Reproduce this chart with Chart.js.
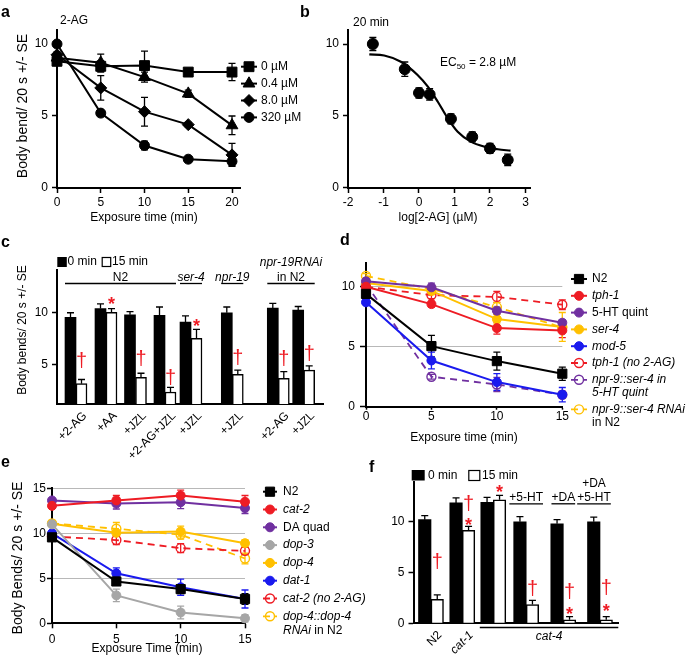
<!DOCTYPE html>
<html><head><meta charset="utf-8">
<script src="https://cdn.jsdelivr.net/npm/chart.js@4.4.1/dist/chart.umd.min.js"></script>
<style>
html,body{margin:0;padding:0;background:#fff}
#wrap{position:relative;width:688px;height:663px;overflow:hidden;background:#fff}
#wrap canvas{position:absolute;left:0;top:0}
</style></head><body>
<div id="wrap">
<canvas id="pa" width="688" height="663"></canvas>
<canvas id="pb" width="688" height="663"></canvas>
<canvas id="pc" width="688" height="663"></canvas>
<canvas id="pd" width="688" height="663"></canvas>
<canvas id="pe" width="688" height="663"></canvas>
<canvas id="pf" width="688" height="663"></canvas>
</div>
<script>
// ================= DATA =================
// Panel a : body bends vs exposure time for 2-AG doses
const aTimes = [0, 5, 10, 15, 20];
const aSeries = ['0 µM', '0.4 µM', '8.0 µM', '320 µM'];
const a0 = [8.8, 8.45, 8.5, 8.05, 8.05];
const a0Err = [0.3, 0.4, 1.0, 0.15, 0.6];
const a04 = [9.05, 8.7, 7.7, 6.55, 4.35];
const a04Err = [0.3, 0.6, 0.35, 0.25, 0.65];
const a8 = [9.25, 6.95, 5.3, 4.4, 2.3];
const a8Err = [0.2, 0.85, 1.0, 0.15, 0.8];
const a320 = [10.0, 5.2, 2.95, 2.0, 1.85];
const a320Err = [0.15, 0.1, 0.3, 0.1, 0.3];
const aXTicks = [0, 5, 10, 15, 20];
const aYTicks = [0, 5, 10];

// Panel b : dose response at 20 min
const bLogConc = [-1.3, -0.4, 0, 0.3, 0.9, 1.5, 2.0, 2.5];
const bBends = [10.0, 8.25, 6.6, 6.5, 4.8, 3.55, 2.75, 1.95];
const bErr = [0.45, 0.5, 0.35, 0.4, 0.35, 0.35, 0.35, 0.4];
const bFitX = [-1.4, -0.98, -0.51, -0.04, 0.25, 0.53, 0.81, 1.09, 1.46, 1.84, 2.22, 2.58];
const bFitY = [9.28, 9.2, 8.77, 7.85, 7.04, 5.99, 4.84, 3.91, 3.22, 2.87, 2.69, 2.59];
const bXTicks = [-2, -1, 0, 1, 2, 3];
const bYTicks = [0, 5, 10];

// Panel c : bars 0 min / 15 min
const cTreat = ['+2-AG', '+AA', '+JZL', '+2-AG+JZL', '+JZL', '+JZL', '+2-AG', '+JZL'];
const cGroups = ['N2', '_ser-4_', '_npr-19_', '_npr-19RNAi_\nin N2'];
const c0 = [9.5, 10.35, 9.75, 9.7, 9.05, 9.95, 10.4, 10.2];
const c0Err = [0.45, 0.45, 0.3, 0.8, 0.6, 0.55, 0.45, 0.35];
const c15 = [3.15, 10.0, 3.75, 2.35, 7.5, 4.05, 3.65, 4.45];
const c15Err = [0.4, 0.35, 0.4, 0.45, 0.85, 0.4, 0.65, 0.4];
const cYTicks = [5, 10];
const cMarks = [[0, '†', 5.45], [1, '*', 11.1], [2, '†', 5.6], [3, '†', 3.8], [4, '*', 9.0], [5, '†', 5.75], [6, '†', 5.6], [7, '†', 6.05]];

// Panel d : serotonin mutants
const dTimes = [0, 5, 10, 15];
const dNames = ['N2', '_tph-1_', '5-HT quint', '_ser-4_', '_mod-5_', '_tph-1 (no 2-AG)_', '_npr-9::ser-4 in_\n_5-HT quint_', '_npr-9::ser-4 RNAi_\nin N2'];
const dN2 = [9.4, 5.05, 3.8, 2.75];          const dN2Err = [0.3, 0.9, 0.75, 0.55];
const dTph1 = [10.0, 8.55, 6.55, 6.35];      const dTph1Err = [0.2, 0.25, 0.5, 0.6];
const dQuint = [10.45, 9.95, 8.0, 7.0];      const dQuintErr = [0.25, 0.35, 0.3, 0.25];
const dSer4 = [10.3, 9.65, 7.3, 6.65];       const dSer4Err = [0.25, 0.3, 0.4, 1.2];
const dMod5 = [8.7, 3.85, 2.05, 1.0];        const dMod5Err = [0.2, 0.7, 0.7, 0.6];
const dTph1No = [10.0, 9.3, 9.15, 8.5];      const dTph1NoErr = [0.2, 0.3, 0.45, 0.4];
const dNpr9Quint = [10.2, 2.5, 1.85, 1.0];   const dNpr9QuintErr = [0.2, 0.2, 0.6, 0.3];
const dNpr9Rnai = [10.9, 9.8, 8.3, 6.6];     const dNpr9RnaiErr = [0.2, 0.3, 0.4, 0.4];
const dXTicks = [0, 5, 10, 15];
const dYTicks = [0, 5, 10];

// Panel e : dopamine mutants
const eTimes = [0, 5, 10, 15];
const eNames = ['N2', '_cat-2_', 'DA quad', '_dop-3_', '_dop-4_', '_dat-1_', '_cat-2 (no 2-AG)_', '_dop-4::dop-4_\n_RNAi_ in N2'];
const eN2 = [9.55, 4.65, 3.8, 2.7];          const eN2Err = [0.2, 0.3, 0.5, 0.6];
const eCat2 = [13.05, 13.65, 14.2, 13.5];    const eCat2Err = [0.2, 0.55, 0.6, 0.7];
const eDaQuad = [13.65, 13.3, 13.45, 12.8];  const eDaQuadErr = [0.2, 0.6, 0.7, 0.6];
const eDop3 = [11.0, 3.1, 1.2, 0.55];        const eDop3Err = [0.2, 0.7, 0.7, 0.4];
const eDop4 = [11.05, 10.05, 10.2, 8.9];     const eDop4Err = [0.2, 0.3, 0.6, 0.4];
const eDat1 = [10.0, 5.55, 4.0, 2.7];        const eDat1Err = [0.2, 0.6, 0.9, 1.0];
const eCat2No = [9.65, 9.25, 8.35, 8.05];    const eCat2NoErr = [0.2, 0.5, 0.5, 0.4];
const eDop4Rnai = [11.1, 10.5, 9.85, 7.2];   const eDop4RnaiErr = [0.2, 0.7, 0.5, 0.6];
const eXTicks = [0, 5, 10, 15];
const eYTicks = [0, 5, 10, 15];

// Panel f : cat-1 / cat-4 rescue bars
const fCats = ['N2', '_cat-1_'];
const fSub = ['+5-HT', '+DA', '+DA\n+5-HT'];
const f0 = [10.2, 11.85, 11.9, 10.0, 9.8, 10.0];
const f0Err = [0.4, 0.5, 0.5, 0.5, 0.4, 0.45];
const f15 = [2.35, 9.15, 12.15, 1.85, 0.35, 0.35];
const f15Err = [0.45, 0.4, 0.45, 0.4, 0.3, 0.3];
const fYTicks = [0, 5, 10];
const fMarks = [[0, '†', 6.15], [1, '†', 11.8], [1, '*', 10.0], [2, '*', 13.3], [3, '†', 3.45], [4, '†', 3.2], [4, '*', 1.3], [5, '†', 3.6], [5, '*', 1.57]];

// ================= LAYOUT / STYLE =================
const W = 688, H = 663;
const FONT = "'Liberation Sans', Arial, Helvetica, sans-serif";
const RED = '#ee1c24', PURPLE = '#7030a0', GOLD = '#ffc000', BLUE = '#1a1aee', GREY = '#a6a6a6', BLACK = '#000000';
const cSlot = [19, 49, 78.5, 108, 134, 175.3, 221.3, 246.7];  // hidden x-axis positions of bar pairs
const cGroupSpan = [[0, 3], [4, 4], [5, 5], [6, 7]];
const fSlot = [17.5, 48.8, 79.8, 112.7, 149.8, 186.5];
const fSubShift = [0, 0, -6];

Chart.defaults.font.family = FONT;
Chart.defaults.font.size = 12;
Chart.defaults.color = '#000';

// ---------- drawing helpers ----------
function fontStr(size, italic, bold) { return (italic ? 'italic ' : '') + (bold ? 'bold ' : '') + size + 'px ' + FONT; }
function drawText(ctx, s, x, y, o = {}) {
  ctx.save();
  ctx.translate(x, y);
  if (o.rot) ctx.rotate(o.rot * Math.PI / 180);
  ctx.font = fontStr(o.size || 12, o.italic, o.bold);
  ctx.fillStyle = o.color || '#000';
  ctx.textAlign = o.align || 'center';
  ctx.textBaseline = o.baseline || 'middle';
  ctx.fillText(s, 0, 0);
  ctx.restore();
}
// "_" toggles italic
function drawRich(ctx, s, x, y, o = {}) {
  const size = o.size || 12;
  const parts = s.split('_');
  const segs = [];
  let total = 0;
  ctx.save();
  parts.forEach((p, i) => {
    const it = i % 2 === 1;
    ctx.font = fontStr(size, it, false);
    const w = ctx.measureText(p).width;
    segs.push({ p, it, w }); total += w;
  });
  ctx.restore();
  let cx = o.align === 'center' ? x - total / 2 : (o.align === 'right' ? x - total : x);
  segs.forEach(sg => {
    if (sg.p) drawText(ctx, sg.p, cx, y, { size, italic: sg.it, align: 'left', baseline: o.baseline || 'middle', rot: 0 });
    cx += sg.w;
  });
  return total;
}
function richRotated(ctx, s, x, y, rot) {
  ctx.save(); ctx.translate(x, y); ctx.rotate(rot * Math.PI / 180);
  drawRich(ctx, s, 0, 0, { align: 'right' });
  ctx.restore();
}
function drawMark(ctx, sym, x, yc) {
  ctx.save();
  const isStar = sym === '*';
  ctx.font = fontStr(isStar ? 18 : 20, false, isStar);
  ctx.textAlign = 'center'; ctx.textBaseline = 'alphabetic'; ctx.fillStyle = RED;
  const m = ctx.measureText(sym);
  ctx.fillText(sym, x, yc + (m.actualBoundingBoxAscent - m.actualBoundingBoxDescent) / 2);
  ctx.restore();
}
function marker(ctx, style, x, y, r, fill, stroke, lw) {
  ctx.save();
  ctx.beginPath();
  if (style === 'circle') ctx.arc(x, y, r, 0, Math.PI * 2);
  else if (style === 'rect') { const s = r * Math.SQRT1_2; ctx.rect(x - s, y - s, 2 * s, 2 * s); }
  else if (style === 'triangle') {
    for (let k = 0; k < 3; k++) { const a = (-90 + 120 * k) * Math.PI / 180; const px = x + Math.cos(a) * r, py = y + Math.sin(a) * r; k ? ctx.lineTo(px, py) : ctx.moveTo(px, py); }
  } else if (style === 'rectRot') { ctx.moveTo(x - r, y); ctx.lineTo(x, y - r); ctx.lineTo(x + r, y); ctx.lineTo(x, y + r); }
  ctx.closePath();
  if (fill) { ctx.fillStyle = fill; ctx.fill(); }
  ctx.setLineDash([]);
  ctx.lineWidth = lw || 1; ctx.strokeStyle = stroke; ctx.stroke();
  ctx.restore();
}
function drawLegend(ctx, datasets, mx, tx, y0, step, gap, half) {
  let y = y0;
  datasets.forEach(ds => {
    ctx.save();
    ctx.strokeStyle = ds.borderColor; ctx.lineWidth = ds.borderWidth || 2; ctx.setLineDash(ds.borderDash || []);
    ctx.beginPath(); ctx.moveTo(mx - half, y); ctx.lineTo(mx + half, y); ctx.stroke();
    ctx.restore();
    marker(ctx, ds.pointStyle, mx, y, ds.pointRadius, ds.open ? null : ds.borderColor, ds.borderColor, ds.open ? 1.4 : 1);
    const lines = ds.label.split('\n');
    lines.forEach((ln, k) => drawRich(ctx, ln, tx, y + k * gap, { align: 'left' }));
    y += step + gap * (lines.length - 1);
  });
}

// error bars: lines -> both directions before datasets; bars -> upward after datasets
function drawErrors(chart, after) {
  const bar = chart.config.type === 'bar';
  if (bar !== after) return;
  const ctx = chart.ctx, ys = chart.scales.y;
  chart.data.datasets.forEach((ds, di) => {
    if (!ds.errors) return;
    const meta = chart.getDatasetMeta(di);
    ctx.save();
    ctx.strokeStyle = ds.errColor || ds.borderColor; ctx.lineWidth = 1.3; ctx.setLineDash([]);
    meta.data.forEach((el, i) => {
      const e = ds.errors[i]; if (e == null) return;
      const v = ds.data[i].y;
      const x = el.x, top = ys.getPixelForValue(v + e), bot = bar ? el.y : ys.getPixelForValue(v - e);
      const cw = 3.5;
      ctx.beginPath();
      ctx.moveTo(x, top); ctx.lineTo(x, bot);
      ctx.moveTo(x - cw, top); ctx.lineTo(x + cw, top);
      if (!bar) { ctx.moveTo(x - cw, bot); ctx.lineTo(x + cw, bot); }
      ctx.stroke();
    });
    ctx.restore();
  });
}
const errPlugin = { id: 'errbars', beforeDatasetsDraw: c => drawErrors(c, false), afterDatasetsDraw: c => drawErrors(c, true) };

function linAxis(min, max, ticks, o = {}) {
  return {
    type: 'linear', min, max, offset: false,
    afterBuildTicks: s => { s.ticks = ticks.map(v => ({ value: v })); },
    ticks: { display: ticks.length > 0, autoSkip: false, maxRotation: 0, minRotation: 0, padding: o.pad ?? 3, color: '#000', font: { size: 12 } },
    grid: { display: o.tickMarks !== false, drawOnChartArea: !!o.gridColor, color: o.gridColor || '#000', lineWidth: 1, drawTicks: o.tickMarks !== false, tickLength: o.tl ?? 5, tickColor: '#000', tickWidth: 1.5, offset: false },
    border: { display: true, color: '#000', width: 2 }
  };
}
function makeChart(id, type, area, yW, xH, datasets, xAxis, yAxis, deco) {
  xAxis.afterFit = s => { s.height = xH; };
  yAxis.afterFit = s => { s.width = yW; };
  return new Chart(document.getElementById(id), {
    type, data: { datasets },
    options: {
      responsive: false, animation: false, devicePixelRatio: 1, events: [],
      layout: { autoPadding: false, padding: { left: area.l - yW, right: W - area.r, top: area.t, bottom: H - area.b - xH } },
      scales: { x: xAxis, y: yAxis },
      plugins: { legend: { display: false }, tooltip: { enabled: false } }
    },
    plugins: [errPlugin, { id: 'deco', afterDraw: c => deco(c) }]
  });
}
const pts = (xs, ys) => ys.map((v, i) => ({ x: xs[i], y: v }));
function lineDs(label, xs, ys, errs, color, ps, r, opt = {}) {
  return {
    label, data: pts(xs, ys), errors: errs, borderColor: color, backgroundColor: color,
    borderWidth: opt.dash ? 1.8 : 2, borderDash: opt.dash ? [7, 5] : [], open: !!opt.open,
    pointStyle: ps, pointRadius: r, pointBorderWidth: opt.open ? 1.4 : 1, pointBorderColor: color,
    pointBackgroundColor: opt.open ? 'rgba(0,0,0,0)' : color, tension: 0, fill: false, clip: false
  };
}

// ================= PANEL a =================
makeChart('pa', 'line', { l: 57, r: 240.75, t: 29.6, b: 188 }, 45, 30, [
  lineDs(aSeries[0], aTimes, a0, a0Err, BLACK, 'rect', 7),
  lineDs(aSeries[1], aTimes, a04, a04Err, BLACK, 'triangle', 6.8),
  lineDs(aSeries[2], aTimes, a8, a8Err, BLACK, 'rectRot', 6),
  lineDs(aSeries[3], aTimes, a320, a320Err, BLACK, 'circle', 5)
], linAxis(0, 21, aXTicks, { tl: 5, pad: 2 }), linAxis(0, 11, aYTicks, { tl: 5, pad: 4 }), c => {
  const ctx = c.ctx;
  drawText(ctx, 'a', 1, 17, { size: 16, bold: true, align: 'left', baseline: 'alphabetic' });
  drawText(ctx, '2-AG', 74, 21);
  drawText(ctx, 'Exposure time (min)', 144, 218);
  drawText(ctx, 'Body bend/ 20 s +/- SE', 23, 106, { size: 14, rot: -90 });
  drawLegend(ctx, c.data.datasets, 249, 261, 66.7, 16.9, 13, 8);
});

// ================= PANEL b =================
makeChart('pb', 'line', { l: 348, r: 530.8, t: 29.6, b: 188 }, 45, 30, [
  { label: 'fit', data: pts(bFitX, bFitY), borderColor: BLACK, borderWidth: 2.2, pointRadius: 0, cubicInterpolationMode: 'monotone', fill: false, clip: false },
  { label: '20 min', data: pts(bLogConc, bBends), errors: bErr, showLine: false, borderColor: BLACK, backgroundColor: BLACK, pointStyle: 'circle', pointRadius: 5.5, pointBackgroundColor: BLACK, clip: false }
], linAxis(-2, 3.15, bXTicks, { tl: 5, pad: 2 }), linAxis(0, 11, bYTicks, { tl: 5, pad: 4 }), c => {
  const ctx = c.ctx;
  drawText(ctx, 'b', 300, 17, { size: 16, bold: true, align: 'left', baseline: 'alphabetic' });
  drawText(ctx, '20 min', 353, 23, { align: 'left' });
  drawText(ctx, 'log[2-AG] (µM)', 438, 218);
  ctx.save(); ctx.font = fontStr(12); const wEC = ctx.measureText('EC').width; ctx.font = fontStr(8); const w50 = ctx.measureText('50').width; ctx.restore();
  drawText(ctx, 'EC', 440, 63, { align: 'left' });
  drawText(ctx, '50', 440 + wEC, 67, { align: 'left', size: 8 });
  drawText(ctx, ' = 2.8 µM', 440 + wEC + w50, 63, { align: 'left' });
});

// ================= PANEL c =================
const cBarW = 11;
makeChart('pc', 'bar', { l: 57, r: 323.3, t: 270, b: 404 }, 45, 20, [
  { label: '0 min', data: c0.map((v, i) => ({ x: cSlot[i] - cBarW / 2, y: v })), errors: c0Err, errColor: BLACK, backgroundColor: BLACK, borderColor: BLACK, borderWidth: 0, barThickness: cBarW, grouped: false, base: 1.2 },
  { label: '15 min', data: c15.map((v, i) => ({ x: cSlot[i] + cBarW / 2, y: v })), errors: c15Err, errColor: BLACK, backgroundColor: '#fff', borderColor: BLACK, borderWidth: 1.5, barThickness: cBarW, grouped: false, base: 1.2 }
], linAxis(0, 266.3, [], { tickMarks: false }), linAxis(1.2, 14.05, cYTicks, { tl: 5, pad: 4 }), c => {
  const ctx = c.ctx, xs = c.scales.x, ys = c.scales.y;
  drawText(ctx, 'c', 1, 246.7, { size: 16, bold: true, align: 'left', baseline: 'alphabetic' });
  drawText(ctx, 'Body bends/ 20 s +/- SE', 23, 330, { rot: -90 });
  // legend
  ctx.save(); ctx.fillStyle = BLACK; ctx.fillRect(57.3, 257, 9.5, 10); ctx.restore();
  drawText(ctx, '0 min', 67.5, 262, { align: 'left' });
  ctx.save(); ctx.strokeStyle = BLACK; ctx.lineWidth = 1.2; ctx.strokeRect(102.2, 257.5, 8.5, 9); ctx.restore();
  drawText(ctx, '15 min', 112, 262, { align: 'left' });
  // group labels
  cGroups.forEach((g, gi) => {
    const [i0, i1] = cGroupSpan[gi];
    const x0 = xs.getPixelForValue(cSlot[i0] - cBarW), x1 = xs.getPixelForValue(cSlot[i1] + cBarW);
    ctx.save(); ctx.strokeStyle = BLACK; ctx.lineWidth = 1.3; ctx.beginPath(); ctx.moveTo(x0, 283.5); ctx.lineTo(x1, 283.5); ctx.stroke(); ctx.restore();
    const lines = g.split('\n');
    lines.forEach((ln, k) => drawRich(ctx, ln, (x0 + x1) / 2, 280.5 - (lines.length - 1 - k) * 14.5, { align: 'center', baseline: 'alphabetic' }));
  });
  // rotated category labels
  cTreat.forEach((t, i) => richRotated(ctx, t, xs.getPixelForValue(cSlot[i]) + 9, ys.bottom + 10, -45));
  // significance marks over 15 min bars
  cMarks.forEach(([i, s, v]) => drawMark(ctx, s, xs.getPixelForValue(cSlot[i] + cBarW / 2), ys.getPixelForValue(v)));
});

// ================= PANEL d =================
makeChart('pd', 'line', { l: 366, r: 562.3, t: 262.7, b: 406.7 }, 40, 30, [
  lineDs(dNames[0], dTimes, dN2, dN2Err, BLACK, 'rect', 6.5),
  lineDs(dNames[1], dTimes, dTph1, dTph1Err, RED, 'circle', 4.5),
  lineDs(dNames[2], dTimes, dQuint, dQuintErr, PURPLE, 'circle', 4.5),
  lineDs(dNames[3], dTimes, dSer4, dSer4Err, GOLD, 'circle', 4.5),
  lineDs(dNames[4], dTimes, dMod5, dMod5Err, BLUE, 'circle', 4.5),
  lineDs(dNames[5], dTimes, dTph1No, dTph1NoErr, RED, 'circle', 4.5, { dash: true, open: true }),
  lineDs(dNames[6], dTimes, dNpr9Quint, dNpr9QuintErr, PURPLE, 'circle', 4.5, { dash: true, open: true }),
  lineDs(dNames[7], dTimes, dNpr9Rnai, dNpr9RnaiErr, GOLD, 'circle', 4.5, { dash: true, open: true })
], linAxis(0, 15, dXTicks, { tl: 3, pad: 0 }), linAxis(0, 12, dYTicks, { tl: 6, pad: 5, gridColor: '#b8b8b8' }), c => {
  const ctx = c.ctx;
  drawText(ctx, 'd', 340, 245, { size: 16, bold: true, align: 'left', baseline: 'alphabetic' });
  drawText(ctx, 'Exposure time (min)', 464, 438);
  drawLegend(ctx, c.data.datasets, 579, 592, 279, 16.8, 12.8, 8);
});

// ================= PANEL e =================
makeChart('pe', 'line', { l: 52, r: 245, t: 488.3, b: 623.3 }, 40, 30, [
  lineDs(eNames[0], eTimes, eN2, eN2Err, BLACK, 'rect', 6.5),
  lineDs(eNames[1], eTimes, eCat2, eCat2Err, RED, 'circle', 4.5),
  lineDs(eNames[2], eTimes, eDaQuad, eDaQuadErr, PURPLE, 'circle', 4.5),
  lineDs(eNames[3], eTimes, eDop3, eDop3Err, GREY, 'circle', 4.5),
  lineDs(eNames[4], eTimes, eDop4, eDop4Err, GOLD, 'circle', 4.5),
  lineDs(eNames[5], eTimes, eDat1, eDat1Err, BLUE, 'circle', 4.5),
  lineDs(eNames[6], eTimes, eCat2No, eCat2NoErr, RED, 'circle', 4.5, { dash: true, open: true }),
  lineDs(eNames[7], eTimes, eDop4Rnai, eDop4RnaiErr, GOLD, 'circle', 4.5, { dash: true, open: true })
], linAxis(0, 15, eXTicks, { tl: 5, pad: 4 }), linAxis(0, 15, eYTicks, { tl: 5, pad: 1, gridColor: '#b8b8b8' }), c => {
  const ctx = c.ctx;
  drawText(ctx, 'e', 1, 467, { size: 16, bold: true, align: 'left', baseline: 'alphabetic' });
  drawText(ctx, 'Exposure Time (min)', 147, 649);
  drawText(ctx, 'Body Bends/ 20 s +/- SE', 18, 558, { size: 14, rot: -90 });
  drawLegend(ctx, c.data.datasets, 270, 283, 491.7, 17.8, 14, 7);
});

// ================= PANEL f =================
const fBarW = 12.5;
makeChart('pf', 'bar', { l: 413.5, r: 618.3, t: 482.3, b: 623.3 }, 45, 20, [
  { label: '0 min', data: f0.map((v, i) => ({ x: fSlot[i] - fBarW / 2, y: v })), errors: f0Err, errColor: BLACK, backgroundColor: BLACK, borderColor: BLACK, borderWidth: 0, barThickness: fBarW, grouped: false },
  { label: '15 min', data: f15.map((v, i) => ({ x: fSlot[i] + fBarW / 2, y: v })), errors: f15Err, errColor: BLACK, backgroundColor: '#fff', borderColor: BLACK, borderWidth: 1.5, barThickness: fBarW, grouped: false }
], linAxis(0, 204.8, [], { tickMarks: false }), linAxis(0, 13.88, fYTicks, { tl: 5, pad: 4 }), c => {
  const ctx = c.ctx, xs = c.scales.x, ys = c.scales.y;
  drawText(ctx, 'f', 369, 472, { size: 16, bold: true, align: 'left', baseline: 'alphabetic' });
  // legend
  ctx.save(); ctx.fillStyle = BLACK; ctx.fillRect(411.7, 470, 13, 10.5); ctx.restore();
  drawText(ctx, '0 min', 428, 475.5, { align: 'left' });
  ctx.save(); ctx.strokeStyle = BLACK; ctx.lineWidth = 1.2; ctx.strokeRect(468.8, 470.5, 11, 10); ctx.restore();
  drawText(ctx, '15 min', 482, 475.5, { align: 'left' });
  // rotated labels for N2, cat-1
  fCats.forEach((t, i) => richRotated(ctx, t, xs.getPixelForValue(fSlot[i]) + 9, ys.bottom + 10, -45));
  // cat-4 line under axis
  const x4a = xs.getPixelForValue(fSlot[2] - fBarW - 1), x4b = xs.right;
  ctx.save(); ctx.strokeStyle = BLACK; ctx.lineWidth = 1.5; ctx.beginPath(); ctx.moveTo(x4a, 627.5); ctx.lineTo(x4b, 627.5); ctx.stroke(); ctx.restore();
  drawText(ctx, 'cat-4', (x4a + x4b) / 2, 637, { italic: true });
  // treatment labels over cat-4 bars
  fSub.forEach((s, k) => {
    const xc = xs.getPixelForValue(fSlot[k + 3]) + fSubShift[k];
    const lines = s.split('\n');
    let wmax = 0;
    lines.forEach((ln, j) => { const w = drawRich(ctx, ln, xc, 500.5 - (lines.length - 1 - j) * 14, { align: 'center', baseline: 'alphabetic' }); wmax = Math.max(wmax, w); });
    ctx.save(); ctx.strokeStyle = BLACK; ctx.lineWidth = 1.3; ctx.beginPath(); ctx.moveTo(xc - wmax / 2, 503.8); ctx.lineTo(xc + wmax / 2, 503.8); ctx.stroke(); ctx.restore();
  });
  fMarks.forEach(([i, s, v]) => drawMark(ctx, s, xs.getPixelForValue(fSlot[i] + fBarW / 2), ys.getPixelForValue(v)));
});
</script>
</body></html>
